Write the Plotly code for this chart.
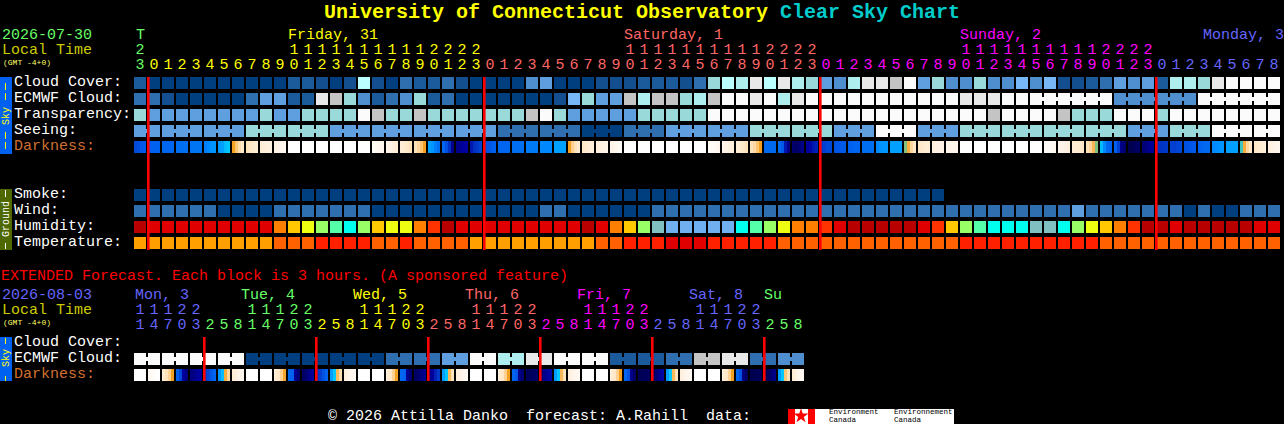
import plotly.graph_objects as go

# ---------- data ----------
main_hours = [23, 0,1,2,3,4,5,6,7,8,9,10,11,12,13,14,15,16,17,18,19,20,21,22,23,
              0,1,2,3,4,5,6,7,8,9,10,11,12,13,14,15,16,17,18,19,20,21,22,23,
              0,1,2,3,4,5,6,7,8,9,10,11,12,13,14,15,16,17,18,19,20,21,22,23,
              0,1,2,3,4,5,6,7,8]
ext_hours = [11,14,17,20,23,2,5,8, 11,14,17,20,23,2,5,8, 11,14,17,20,23,2,5,8, 11,14,17,20,23,2,5,8,
             11,14,17,20,23,2,5,8, 11,14,17,20,23,2,5,8]
main_day_colors = ["#66FF66", "#FFFF00", "#FF6666", "#FF00FF", "#6666FF"]
ext_day_colors = ["#6666FF", "#66FF66", "#FFFF00", "#FF6666", "#FF00FF", "#6666FF", "#66FF66"]
main_day_labels = ["T", "Friday, 31", "Saturday, 1", "Sunday, 2", "Monday, 3"]
ext_day_labels = ["Mon, 3", "Tue, 4", "Wed, 5", "Thu, 6", "Fri, 7", "Sat, 8", "Su"]
sky_labels = ["Cloud Cover:", "ECMWF Cloud:", "Transparency:", "Seeing:", "Darkness:"]
ground_labels = ["Smoke:", "Wind:", "Humidity:", "Temperature:"]
ext_labels = ["Cloud Cover:", "ECMWF Cloud:", "Darkness:"]
main_midnights = [1, 25, 49, 73]
ext_midnights = [5, 13, 21, 29, 37, 45]

cloud_palette = ["#003F7F", "#134F8F", "#1B5B9B", "#2F6FAF", "#4F8FCF", "#5F9FDF", "#77B7F7",
                 "#99D9D9", "#AEEEEE", "#BBFFFF", "#C4C4C4", "#E8E8E8", "#FBFBFB"]
humidity_palette = ["#B80000", "#E00000", "#FF3300", "#FF8000", "#FFC800", "#EEFF11", "#99FF66",
                    "#55FFAA", "#00FFEE", "#80C0C0", "#70B0F0"]
temperature_palette = ["#E00000", "#FF2000", "#FF6000", "#FFA000"]

cloud = [2,0,0,0,0,0,0,0,0,0,0,2,2,1,0,1,9,1,0,3,2,
         2,3,1,0,0,0,0,4,5,0,0,0,1,1,1,2,2,2,1,3,7,9,8,11,9,11,8,7,5,4,8,
         11,11,10,12,5,7,4,4,7,4,4,6,4,6,1,1,2,3,5,4,5,2,8,8,7,11,12,12,12,12]
ecmwf = [3,3,1,0,0,0,0,0,3,5,5,2,2,11,10,7,4,2,3,4,7,
         2,3,0,0,0,0,0,0,0,1,6,7,5,5,10,8,10,10,7,8,10,12,12,11,12,8,11,12,12,12,12,
         12,12,12,12,12,12,12,11,11,11,12,12,12,12,12,12,12,12,4,4,4,4,4,4,12,12,12,12,12,12]
ecmwf_runs = [(64, 69), (70, 75), (76, 81)]
transparency = [7,5,5,5,5,5,5,5,5,7,5,5,7,7,7,7,12,10,7,7,10,
                7,7,7,7,7,7,7,10,12,7,5,5,5,5,5,7,7,7,7,7,
                12,12,12,12,12,12,12,12,12,12,12,12,12,12,12,12,12,12,12,12,
                10,12,12,12,12,10,7,7,7,12,12,12,7,12,12,12,12,12,12,12,12]
seeing_block_levels = [5,5,5,7,7,5,5,5,5,3,3,0,3,5,5,7,7,5,12,5,7,7,7,7,5,7,12,12]
seeing_block_sizes = [2,3,3,3,3,3,3,3,3,3,3,3,3,3,3,3,3,3,3,3,3,3,3,3,3,3,3,2]
smoke = [0,0,0,0,0,0,0,0,0,0,0,0,0,0,0,0,0,0,0,0,0,0,0,0,0,0,0,0,0,
         0,0,0,0,0,0,0,0,0,0,0,0,0,0,0,0,0,0,0,0,0,0,0,0,0,0,0,0,0]
wind = [3,3,3,3,3,3,0,0,0,0,3,3,3,3,3,3,3,0,0,0,0,0,0,0,0,0,0,0,0,3,3,0,0,0,0,0,0,
        3,3,3,3,3,3,3,3,3,3,3,3,3,3,3,3,3,3,3,3,3,3,3,3,3,3,3,3,3,3,5,
        3,3,3,3,3,3,3,0,3,0,0,3,3,3]
humidity = [0,1,1,1,1,1,1,1,1,1,3,4,5,6,7,8,6,4,5,5,3,2,0,1,1,1,1,1,1,1,1,1,0,1,3,4,6,9,
            10,10,10,10,10,8,7,6,5,3,3,2,1,0,0,0,0,0,1,2,4,6,7,8,8,8,9,9,8,6,5,4,3,2,0,0,1,
            0,0,0,0,0,1,1]
temperature = [3,3,3,3,3,3,3,3,3,3,2,2,2,1,1,1,1,2,2,1,2,2,2,2,3,3,3,3,3,3,3,3,3,2,2,1,1,1,
               0,0,0,1,1,1,1,1,2,2,2,2,2,2,2,2,2,2,2,2,2,1,1,1,1,1,1,1,1,1,1,
               2,2,2,2,2,2,2,2,2,2,2,2,2]
ext_ecmwf_pairs = [12,12,12,12,0,0,0,0,0,3,3,5,12,8,11,12,12,2,2,3,10,11,3,4]

darkness_stops = [(0,"#000050"),(8,"#000080"),(15,"#0000A0"),(25,"#0030C0"),(33,"#0048D8"),(40,"#0060F0"),
                  (47,"#0070F0"),(52,"#0088FF"),(57,"#00A0FF"),(60,"#00C8FF"),(62,"#80C080"),(64,"#F5A020"),
                  (72,"#FFD090"),(80,"#FFE8C8"),(88,"#FFF2E4"),(100,"#FFFFFF")]
darkness = [(33,35,37,38),(40,40,40,40),(42,42,42,42),(46,46,46,46),(48,48,48,48),(50,52,54,55),(56,57,59,60),
            (64,70,76,80),(78,80,82,84),(84,85,86,87),(88,90,92,94),(100,100,100,100),(100,100,100,100),
            (100,100,100,100),(100,100,100,100),(100,100,100,100),(100,100,100,100),(96,94,93,92),(90,88,86,84),
            (84,82,80,78),(78,74,70,64),(57,55,50,47),(42,35,25,10),(10,12,15,15),(20,25,28,31),(35,36,38,40),
            (42,42,42,42),(46,46,46,46),(49,49,49,49),(52,52,52,52),(57,57,57,57),(64,72,78,82),(80,82,84,86),
            (86,87,88,90),(90,92,94,96),(100,100,100,100),(100,100,100,100),(100,100,100,100),(100,100,100,100),
            (100,100,100,100),(100,100,100,100),(97,96,95,93),(90,88,86,85),(84,82,80,78),(78,75,70,64),
            (44,44,44,44),(44,38,20,10),(5,3,6,10),(14,16,20,22),(28,30,33,33),(36,37,38,38),(40,41,42,42),
            (46,46,46,46),(52,54,55,55),(57,57,57,57),(62,66,74,80),(80,81,83,84),(86,87,88,89),(90,91,92,93),
            (100,100,100,100),(100,100,100,100),(100,100,100,100),(100,100,100,100),(100,100,100,100),(100,100,100,100),
            (97,96,95,94),(91,90,88,86),(84,83,82,80),(78,74,68,62),(59,52,44,40),(40,30,10,5),(0,0,2,3),(6,8,12,14),
            (25,26,27,28),(30,30,32,33),(35,36,37,38),(40,42,44,44),(52,53,54,55),(57,57,57,57),(61,66,74,80),
            (80,82,83,85),(86,88,90,92)]
ext_darkness = [(100,100,100,100),(94,96,98,100),(82,78,72,64),(40,33,15,8),(8,10,14,15),(28,33,38,42),(55,59,66,74),(84,86,90,92),
                (100,100,100,100),(100,100,100,100),(84,80,72,65),(42,40,12,6),(3,6,10,15),(26,30,36,40),(56,60,68,76),(86,90,92,94),
                (100,100,100,100),(100,100,100,100),(84,80,72,64),(44,40,12,6),(3,5,8,12),(10,14,22,28),(57,60,68,78),(86,88,92,94),
                (100,100,100,100),(100,100,100,100),(84,80,72,64),(42,38,10,6),(2,2,3,4),(6,10,14,16),(56,60,68,78),(86,90,92,94),
                (100,100,100,100),(100,100,100,100),(84,80,72,64),(42,36,10,4),(1,1,2,2),(3,6,12,16),(56,60,68,78),(86,90,92,94),
                (100,100,100,100),(100,100,100,100),(84,80,72,64),(42,36,8,3),(0,0,1,1),(1,2,6,10),(56,60,70,78),(84,88,92,94)]

# ---------- layout helpers ----------
FONT = "Liberation Mono"
W, H = 1284, 424
def X(p): return (p - 140) / 14
def Y(p): return (p - 83) / 16

def stepped(palette):
    n = len(palette)
    scale = []
    for i, c in enumerate(palette):
        scale += [[i / n, c], [(i + 1) / n, c]]
    return scale

def row(r, values, palette):
    return go.Heatmap(x=list(range(len(values))), y=[r], z=[values], colorscale=stepped(palette),
                      zmin=-0.5, zmax=len(palette) - 0.5, showscale=False, xgap=2, ygap=4, hoverinfo="skip")

def dark_row(r, cells):
    edges, z = [], []
    for i, c in enumerate(cells):
        edges += [i - 6/14, i - 3/14, i, i + 3/14, i + 6/14]
        z += list(c)
        if i < len(cells) - 1:
            z.append(None)
    scale = [[v / 100, c] for v, c in darkness_stops]
    return go.Heatmap(x=edges, y=[r], z=[z], colorscale=scale, zmin=0, zmax=100, showscale=False,
                      ygap=4, hoverinfo="skip")

def bridges(r, values, runs, palette):
    out = []
    for color_i in sorted(set(values)):
        xs, ys = [], []
        for a, b in runs:
            if values[a] == color_i:
                xs += [a, b, None]
                ys += [r, r, None]
        if xs:
            out.append(go.Scatter(x=xs, y=ys, mode="lines", hoverinfo="skip",
                                  line=dict(color=palette[color_i], width=4)))
    return out

def digits(hours, colors, y_tens, y_units):
    out = []
    start = 0
    spans = []
    for i in range(1, len(hours) + 1):
        if i == len(hours) or hours[i] < hours[i - 1]:
            spans.append((start, i))
            start = i
    for k, (a, b) in enumerate(spans):
        cols = list(range(a, b))
        out.append(go.Scatter(x=cols, y=[y_units] * len(cols), mode="text", hoverinfo="skip",
                              text=[str(hours[c] % 10) for c in cols],
                              textfont=dict(family=FONT, size=15, color=colors[k])))
        tens = [c for c in cols if hours[c] >= 10]
        out.append(go.Scatter(x=tens, y=[y_tens] * len(tens), mode="text", hoverinfo="skip",
                              text=[str(hours[c] // 10) for c in tens],
                              textfont=dict(family=FONT, size=15, color=colors[k])))
    return out

# ---------- expand blocks ----------
seeing, seeing_runs = [], []
for lv, n in zip(seeing_block_levels, seeing_block_sizes):
    seeing_runs.append((len(seeing), len(seeing) + n - 1))
    seeing += [lv] * n
ext_ecmwf = []
ext_runs = []
for lv in ext_ecmwf_pairs:
    ext_runs.append((len(ext_ecmwf), len(ext_ecmwf) + 1))
    ext_ecmwf += [lv, lv]

R_EXT_E = Y(359)
R_EXT_D = Y(375)

traces = [
    row(0, cloud, cloud_palette), row(1, ecmwf, cloud_palette), row(2, transparency, cloud_palette),
    row(3, seeing, cloud_palette), dark_row(4, darkness),
    row(7, smoke, cloud_palette), row(8, wind, cloud_palette),
    row(9, humidity, humidity_palette), row(10, temperature, temperature_palette),
    row(R_EXT_E, ext_ecmwf, cloud_palette), dark_row(R_EXT_D, ext_darkness),
]
traces += bridges(1, ecmwf, ecmwf_runs, cloud_palette)
traces += bridges(3, seeing, seeing_runs, cloud_palette)
traces += bridges(R_EXT_E, ext_ecmwf, ext_runs, cloud_palette)

traces += digits(main_hours, main_day_colors, Y(50), Y(65))
traces += digits(ext_hours, ext_day_colors, Y(310), Y(325))

# maple leaf on the logo
traces.append(go.Scatter(x=[X(801)], y=[Y(416)], mode="markers", hoverinfo="skip",
                         marker=dict(symbol="star", size=11, color="#FF0000")))

anns = []
def label(px, py, text, color, size=15, anchor="left", angle=0, bold=False, family=FONT):
    shift = -1 if (anchor == "left" and px > 0) else 0
    anns.append(dict(x=X(px), y=Y(py), xref="x", yref="y", text=f"<b>{text}</b>" if bold else text,
                     showarrow=False, xanchor=anchor, yanchor="middle", textangle=angle, borderpad=0,
                     xshift=shift, font=dict(family=family, size=size, color=color)))

label(642, 12, 'University of Connecticut Observatory <span style="color:#00CCCC">Clear Sky Chart</span>',
      "#FFFF00", 20, "center", bold=True)
label(2, 35, "2026-07-30", "#66FF66")
label(2, 50, "Local Time", "#CCCC00")
label(3, 62, "(GMT -4+0)", "#FFFF66", 8)
label(140, 35, main_day_labels[0], main_day_colors[0], anchor="center")
for t, p, c in zip(main_day_labels[1:], [288, 624, 960, 1203], main_day_colors[1:]):
    label(p, 35, t, c)
for i, t in enumerate(sky_labels):
    label(14, 82 + 16 * i, t, "#D07030" if t == "Darkness:" else "#FFFFFF")
for i, t in enumerate(ground_labels):
    label(14, 194 + 16 * i, t, "#FFFFFF")

label(0, 276, "EXTENDED Forecast. Each block is 3 hours. (A sponsored feature)", "#FF0000")
label(2, 295, "2026-08-03", "#6666FF")
label(2, 310, "Local Time", "#CCCC00")
label(3, 322, "(GMT -4+0)", "#FFFF66", 8)
for t, p, c in zip(ext_day_labels, [135, 241, 353, 465, 577, 689, 764], ext_day_colors):
    label(p, 295, t, c)
for i, t in enumerate(ext_labels):
    label(14, 342 + 16 * i, t, "#D07030" if t == "Darkness:" else "#FFFFFF")

label(328, 416, "\u00a9 2026 Attilla Danko  forecast: A.Rahill  data:", "#FFFFFF")
label(829, 411.5, "Environment", "#000000", 7.5)
label(829, 419.5, "Canada", "#000000", 7.5)
label(894, 411.5, "Environnement", "#000000", 7.5)
label(894, 419.5, "Canada", "#000000", 7.5)

# side bars
label(6, 116, "Sky", "#FFFF00", 10, "center", -90)
label(6, 219, "Ground", "#FFFFFF", 10, "center", -90)
label(6, 358, "Sky", "#FFFF00", 10, "center", -90)

def rect(x0, x1, y0, y1, color, layer="below"):
    return dict(type="rect", x0=X(x0), x1=X(x1), y0=Y(y0), y1=Y(y1), fillcolor=color,
                line=dict(width=0), layer=layer)

shapes = [
    rect(0, 12, 77, 154, "#0060F0"),
    rect(0, 12, 189, 250, "#4F6800"),
    rect(0, 12, 337, 381, "#0060F0"),
    rect(788, 954, 409, 424, "#FFFFFF"),
    rect(788, 795, 409, 424, "#FF0000"),
    rect(808, 815, 409, 424, "#FF0000"),
]
for a, b in [(83, 90), (93, 100), (132, 139), (142, 149)]:
    shapes.append(rect(5, 6, a, b, "#FFFF00", "above"))
for a, b in [(190, 197), (243, 249)]:
    shapes.append(rect(5, 6, a, b, "#FFFFFF", "above"))
for a, b in [(338, 344), (376, 381)]:
    shapes.append(rect(5, 6, a, b, "#FFFF00", "above"))

# midnight lines, from the midnight column lists
for m in main_midnights:
    p = 134 + 14 * m
    shapes.append(rect(p - 1, p + 1.6, 77, 250, "#FF0000", "above"))
for m in ext_midnights:
    p = 134 + 14 * m
    shapes.append(rect(p - 1, p + 1.6, 337, 381, "#FF0000", "above"))

fig = go.Figure(traces)
fig.update_layout(
    width=W, height=H, autosize=False, margin=dict(l=0, r=0, t=0, b=0, pad=0),
    paper_bgcolor="#000000", plot_bgcolor="#000000", showlegend=False,
    xaxis=dict(range=[X(0), X(W)], visible=False, fixedrange=True),
    yaxis=dict(range=[Y(H), Y(0)], visible=False, fixedrange=True),
    annotations=anns, shapes=shapes,
)
fig.write_html("out.html", config={"displayModeBar": False},
               post_script="document.body.style.margin='0';document.documentElement.style.overflow='hidden';")
